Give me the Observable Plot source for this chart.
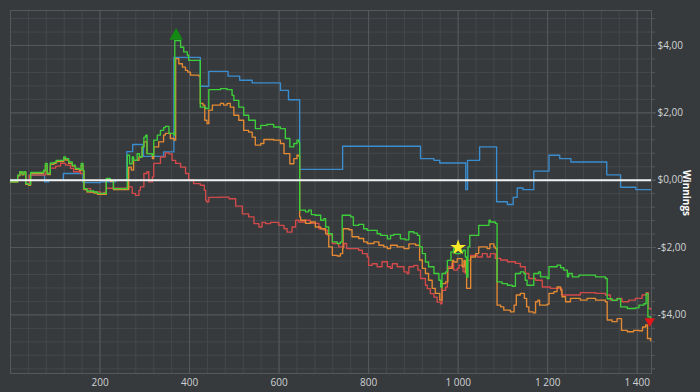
<!DOCTYPE html>
<html>
<head>
<meta charset="utf-8">
<script src="https://cdn.jsdelivr.net/npm/d3@7"></script>
<script src="https://cdn.jsdelivr.net/npm/@observablehq/plot@0.6"></script>
<style>
  html, body { margin: 0; padding: 0; background: #373a3d; }
  #chart { width: 700px; height: 392px; }
</style>
</head>
<body>
<div id="chart"></div>
<script>
// Series: [hand number, winnings in $]
const blue = [[0,0],[42,0.15],[76,-0.05],[85,0],[118,0.20],[162,-0.07],[201,-0.05],[235,0],[260,0.85],[273,1.06],[297,0.71],[342,0.84],[365,3.65],[424,2.79],[443,3.23],[486,3.09],[512,2.97],[540,2.89],[603,2.67],[621,2.39],[646,0.32],[742,1.01],[916,0.64],[946,0.59],[959,0.51],[1017,-0.28],[1021,0.59],[1048,0.99],[1086,-0.64],[1110,-0.72],[1123,-0.51],[1132,-0.23],[1145,-0.28],[1169,0.27],[1203,0.74],[1227,0.64],[1252,0.54],[1332,0.16],[1363,-0.21],[1397,-0.28],[1430,-0.28]];

const green = [[0,-0.05],[16,0.15],[21,0.25],[26,0.18],[30,0.25],[34,-0.10],[40,-0.13],[45,0.23],[67,0.23],[74,0.30],[78,0.50],[82,0.20],[89,0.51],[97,0.53],[102,0.59],[115,0.59],[119,0.69],[123,0.64],[130,0.54],[138,0.45],[145,0.35],[154,0.32],[158,0.50],[162,0.30],[164,-0.25],[171,-0.32],[186,-0.35],[194,-0.39],[208,-0.39],[214,0.05],[223,0],[230,-0.25],[257,-0.25],[261,0.74],[266,0.49],[272,0.69],[275,0.59],[283,0.79],[288,0.69],[294,0.99],[298,1.28],[302,1.34],[305,0.79],[317,0.74],[320,1.19],[328,1.34],[335,1.48],[342,1.56],[346,1.60],[354,1.39],[365,1.34],[367,4.15],[380,3.95],[387,3.81],[395,3.71],[398,3.56],[421,3.56],[424,2.17],[436,2.13],[443,2.69],[469,2.72],[484,2.69],[495,2.52],[499,2.37],[510,2.17],[521,1.93],[532,1.78],[547,1.53],[559,1.63],[573,1.66],[588,1.58],[603,1.53],[614,1.24],[624,0.99],[633,1.09],[640,1.19],[644,1.13],[646,-0.89],[659,-0.94],[666,-0.89],[672,-1.02],[681,-1.04],[693,-1.19],[700,-1.14],[704,-1.39],[711,-1.59],[719,-1.83],[730,-1.88],[737,-1.83],[741,-1.04],[760,-1.09],[766,-1.34],[778,-1.31],[789,-1.44],[797,-1.49],[812,-1.49],[819,-1.59],[827,-1.64],[842,-1.74],[849,-1.64],[856,-1.61],[871,-1.74],[882,-1.77],[890,-1.53],[901,-1.57],[909,-1.64],[914,-1.98],[920,-2.18],[927,-2.43],[934,-2.57],[946,-2.77],[957,-2.97],[961,-3.17],[964,-2.77],[972,-2.72],[976,-2.38],[984,-2.13],[990,-2.03],[994,-2.18],[1005,-2.13],[1011,-2.08],[1016,-2.28],[1019,-2.88],[1022,-1.98],[1026,-1.64],[1043,-1.64],[1046,-1.34],[1065,-1.34],[1069,-1.19],[1072,-1.24],[1083,-1.28],[1087,-3.02],[1098,-3.07],[1110,-3.12],[1121,-3.15],[1128,-2.77],[1139,-2.72],[1147,-2.77],[1150,-2.97],[1154,-3.12],[1162,-3.12],[1169,-2.77],[1180,-2.72],[1184,-2.87],[1199,-2.92],[1203,-2.57],[1221,-2.52],[1229,-2.60],[1236,-2.67],[1244,-2.87],[1247,-2.77],[1255,-2.87],[1270,-2.82],[1292,-2.82],[1307,-2.87],[1329,-2.92],[1333,-3.52],[1344,-3.57],[1355,-3.52],[1363,-3.76],[1378,-3.81],[1396,-3.79],[1404,-3.71],[1415,-3.67],[1420,-3.37],[1424,-4.06],[1430,-4.11]];

const orange = [[0,-0.05],[16,0.13],[21,0.23],[26,0.16],[30,0.22],[34,-0.12],[40,-0.15],[45,0.20],[67,0.20],[74,0.27],[78,0.45],[82,0.17],[89,0.47],[97,0.50],[102,0.55],[115,0.55],[119,0.64],[123,0.60],[130,0.50],[138,0.42],[145,0.32],[154,0.29],[158,0.45],[162,0.27],[164,-0.28],[171,-0.35],[186,-0.38],[194,-0.42],[208,-0.42],[214,0.02],[223,-0.03],[230,-0.28],[257,-0.28],[264,0.39],[270,0.30],[275,0.59],[287,0.69],[294,0.99],[298,1.14],[305,0.79],[317,0.64],[320,0.99],[331,1.14],[342,1.34],[346,1.39],[357,1.24],[365,1.19],[369,3.61],[376,3.46],[384,3.36],[391,3.26],[396,3.21],[402,3.12],[421,3.09],[424,2.28],[430,2.23],[434,1.78],[439,1.68],[443,2.08],[451,2.23],[469,2.28],[476,2.23],[484,2.28],[491,2.17],[499,1.93],[510,1.78],[521,1.48],[532,1.43],[540,1.28],[547,1.04],[559,1.09],[566,1.21],[588,1.19],[603,1.09],[611,0.79],[624,0.49],[633,0.64],[640,0.74],[644,0.71],[646,-1.09],[648,-1.19],[659,-1.28],[670,-1.24],[681,-1.39],[693,-1.44],[704,-1.59],[711,-1.98],[719,-2.23],[730,-2.25],[737,-2.18],[742,-2.03],[743,-1.44],[756,-1.47],[763,-1.68],[778,-1.73],[789,-1.83],[797,-1.88],[812,-1.83],[823,-1.93],[834,-1.98],[842,-2.03],[849,-1.93],[864,-1.98],[879,-2.03],[890,-1.89],[905,-1.93],[914,-2.37],[920,-2.62],[927,-2.77],[934,-2.97],[942,-3.21],[949,-3.36],[959,-3.56],[964,-3.07],[972,-3.02],[977,-2.62],[987,-2.38],[990,-2.43],[998,-2.33],[1009,-2.57],[1013,-2.38],[1016,-2.72],[1019,-3.21],[1024,-3.21],[1028,-2.28],[1039,-2.18],[1046,-1.98],[1065,-2.03],[1071,-1.89],[1080,-1.98],[1083,-2.03],[1087,-3.71],[1095,-3.76],[1102,-3.86],[1117,-3.91],[1125,-3.71],[1130,-3.41],[1139,-3.36],[1148,-3.51],[1153,-3.76],[1158,-3.91],[1168,-3.94],[1173,-3.61],[1178,-3.56],[1182,-3.71],[1199,-3.68],[1203,-3.36],[1214,-3.31],[1221,-3.17],[1229,-3.26],[1232,-3.46],[1240,-3.61],[1251,-3.51],[1273,-3.56],[1288,-3.51],[1307,-3.56],[1329,-3.61],[1333,-4.15],[1344,-4.20],[1355,-4.11],[1360,-4.11],[1365,-4.46],[1378,-4.50],[1392,-4.46],[1404,-4.47],[1412,-4.36],[1419,-4.30],[1423,-4.70],[1430,-4.77]];

const red = [[0,-0.05],[16,0.15],[21,0.25],[26,0.18],[30,0.25],[34,-0.10],[40,-0.13],[42,0.15],[74,0.15],[78,0.21],[89,0.36],[101,0.42],[112,0.50],[123,0.45],[134,0.35],[141,0.25],[156,0.20],[162,0.20],[164,-0.25],[179,-0.35],[201,-0.39],[208,-0.36],[214,-0.24],[246,-0.24],[261,-0.20],[272,-0.39],[279,-0.45],[287,-0.30],[290,-0.20],[298,0.20],[305,0.25],[309,-0.05],[317,0.10],[320,0.50],[335,0.69],[346,0.81],[354,0.78],[361,0.59],[369,0.50],[380,0.39],[391,0.20],[398,0],[409,-0.10],[424,-0.15],[433,-0.30],[436,-0.59],[438,-0.64],[443,-0.51],[469,-0.50],[488,-0.55],[503,-0.77],[518,-1.00],[532,-1.09],[544,-1.29],[555,-1.39],[562,-1.25],[570,-1.29],[581,-1.25],[599,-1.34],[611,-1.44],[618,-1.54],[629,-1.39],[637,-1.19],[644,-1.24],[659,-1.19],[670,-1.28],[678,-1.28],[689,-1.44],[700,-1.48],[708,-1.63],[719,-1.88],[733,-1.98],[745,-1.88],[751,-2.03],[763,-2.03],[778,-2.08],[786,-2.18],[797,-2.28],[800,-2.53],[808,-2.48],[819,-2.57],[830,-2.42],[842,-2.57],[849,-2.62],[853,-2.48],[864,-2.57],[879,-2.72],[886,-2.77],[890,-2.57],[901,-2.53],[910,-2.67],[916,-2.92],[927,-3.12],[931,-3.22],[938,-3.37],[946,-3.47],[953,-3.62],[961,-3.67],[964,-3.27],[972,-3.17],[976,-2.57],[987,-2.48],[990,-2.67],[998,-2.62],[1002,-2.52],[1011,-2.72],[1016,-2.77],[1020,-2.38],[1028,-2.23],[1043,-2.28],[1054,-2.18],[1065,-2.28],[1072,-2.18],[1083,-2.32],[1095,-2.37],[1110,-2.42],[1128,-2.47],[1139,-2.57],[1150,-2.77],[1158,-2.92],[1173,-2.97],[1188,-3.17],[1206,-3.21],[1229,-3.21],[1231,-3.41],[1273,-3.34],[1307,-3.36],[1329,-3.41],[1340,-3.56],[1355,-3.51],[1366,-3.61],[1381,-3.56],[1396,-3.51],[1411,-3.41],[1420,-3.34],[1425,-3.81],[1430,-3.83]];

// Markers
const peakMarker = [[370, 4.17]];
const starMarker = [[1000, -2.0]];
const endMarker = [[1428, -4.22]];

// Axes
const xTicks = [200, 400, 600, 800, 1000, 1200, 1400];
const yTicks = [-4, -2, 0, 2, 4];
const yLabel = "Winnings";

const fmtX = d => d3.format(",")(d).replace(/,/g, " ");
const fmtY = d => (d < 0 ? "-" : "") + "$" + Math.abs(d).toFixed(2).replace(".", ",");

const xMinor = d3.range(40, 1432, 40);
const yMinor = d3.range(-5.6, 5.05, 0.4).map(v => +v.toFixed(2));

const triangleDown = {
  draw(ctx, size) {
    const s = Math.sqrt(size);
    ctx.moveTo(0, s * 0.6);
    ctx.lineTo(-s * 0.65, -s * 0.5);
    ctx.lineTo(s * 0.65, -s * 0.5);
    ctx.closePath();
  }
};

const P = d => d[0], Q = d => d[1];
const gridMinor = "#45484b", gridMajor = "#56595c", txt = "#cfd2d4";
const lw = 1.35;

const chart = Plot.plot({
  width: 700,
  height: 392,
  marginLeft: 10,
  marginRight: 49,
  marginTop: 10,
  marginBottom: 19,
  style: { background: "#373a3d", color: txt, fontFamily: "'Open Sans', 'Noto Sans', sans-serif", fontSize: "10px" },
  x: { domain: [0, 1432] },
  y: { domain: [-5.74, 5.04] },
  marks: [
    Plot.gridX(xMinor, { stroke: gridMinor, strokeOpacity: 1 }),
    Plot.gridY(yMinor, { stroke: gridMinor, strokeOpacity: 1 }),
    Plot.gridX(xTicks, { stroke: gridMajor, strokeOpacity: 1 }),
    Plot.gridY(yTicks, { stroke: gridMajor, strokeOpacity: 1 }),
    Plot.frame({ stroke: gridMajor }),
    Plot.axisX(xTicks, { anchor: "bottom", tickSize: 0, tickPadding: 5, tickFormat: fmtX, label: null, fill: txt }),
    Plot.axisY(yMinor, { anchor: "right", tickSize: 3, tickFormat: () => "", label: null, stroke: gridMajor }),
    Plot.axisY(yTicks, { anchor: "right", tickSize: 4, tickPadding: 2, tickFormat: fmtY, label: null, fill: txt, stroke: gridMajor }),
    Plot.line(blue, { x: P, y: Q, curve: "step-after", stroke: "#3a8dcf", strokeWidth: lw }),
    Plot.line(red, { x: P, y: Q, curve: "step-after", stroke: "#d44a4a", strokeWidth: lw }),
    Plot.line(orange, { x: P, y: Q, curve: "step-after", stroke: "#e48a33", strokeWidth: lw }),
    Plot.line(green, { x: P, y: Q, curve: "step-after", stroke: "#3ccf3a", strokeWidth: lw }),
    Plot.ruleY([0], { stroke: "#f2f2f2", strokeWidth: 2 }),
    Plot.dot(peakMarker, { x: P, y: Q, symbol: "triangle", r: 5, dy: -4, fill: "#138a13", stroke: "none" }),
    Plot.dot(starMarker, { x: P, y: Q, symbol: "star", r: 5, fill: "#f7e82a", stroke: "none" }),
    Plot.dot(endMarker, { x: P, y: Q, symbol: triangleDown, r: 4.5, fill: "#e3161a", stroke: "none" })
  ]
});

// y-axis title, rotated to read top-to-bottom on the right side
d3.select(chart).append("text")
  .attr("transform", "translate(686,193) rotate(90)")
  .attr("text-anchor", "middle")
  .attr("dominant-baseline", "middle")
  .attr("fill", "#ffffff")
  .attr("font-weight", "bold")
  .attr("font-size", 10)
  .text(yLabel);

document.getElementById("chart").appendChild(chart);
</script>
</body>
</html>
